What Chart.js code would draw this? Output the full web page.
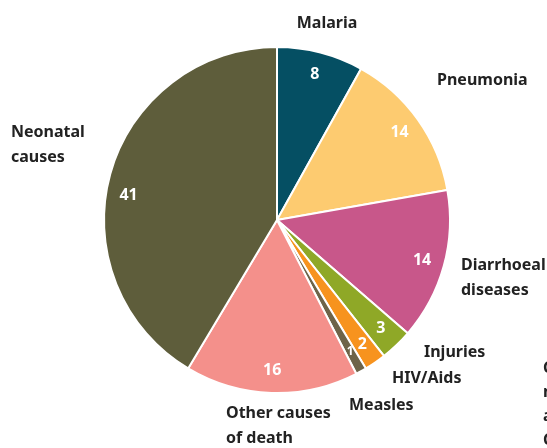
<!DOCTYPE html>
<html>
<head>
<meta charset="utf-8">
<script src="https://cdn.jsdelivr.net/npm/chart.js@4"></script>
<style>
  html, body { margin: 0; padding: 0; background: #fff; }
  #wrap { width: 547px; height: 448px; position: relative; }
</style>
</head>
<body>
<div id="wrap"><canvas id="pieChart" width="547" height="448"></canvas></div>
<script>
const categories = ['Malaria', 'Pneumonia', 'Diarrhoeal diseases', 'Injuries', 'HIV/Aids', 'Measles', 'Other causes of death', 'Neonatal causes'];
const values = [8, 14, 14, 3, 2, 1, 16, 41];
const colours = ['#054f63', '#fdcb70', '#c8578a', '#8fa827', '#f7931e', '#6e6449', '#f4908b', '#5e5d3b'];

// where along each slice's angle the number sits (0.5 = middle)
const valueAnglePos = [0.5, 0.5, 0.5, 0.5, 0.5, 0.5, 0.5, 0.46];

// outside label text lines and where they sit
const outerLabels = [
  { lines: ['Malaria'], x: 327, y: 23, align: 'center' },
  { lines: ['Pneumonia'], x: 437, y: 80, align: 'left' },
  { lines: ['Diarrhoeal', 'diseases'], x: 461, y: 265, align: 'left' },
  { lines: ['Injuries'], x: 424, y: 352, align: 'left' },
  { lines: ['HIV/Aids'], x: 392, y: 378, align: 'left' },
  { lines: ['Measles'], x: 349, y: 405, align: 'left' },
  { lines: ['Other causes', 'of death'], x: 226, y: 413, align: 'left' },
  { lines: ['Neonatal', 'causes'], x: 11, y: 132, align: 'left' }
];
const cutText = ['C', 'n', 'a', 'C'];

const FONT = '"Noto Sans", sans-serif';

const labelPlugin = {
  id: 'labels',
  afterDatasetsDraw(chart) {
    const ctx = chart.ctx;
    const meta = chart.getDatasetMeta(0);
    ctx.save();
    ctx.textBaseline = 'middle';
    ctx.fillStyle = '#fff';
    ctx.textAlign = 'center';
    meta.data.forEach((arc, i) => {
      const p = arc.getProps(['x', 'y', 'startAngle', 'endAngle', 'outerRadius'], true);
      const a = p.startAngle + (p.endAngle - p.startAngle) * valueAnglePos[i];
      const r = p.outerRadius * 0.87;
      ctx.font = (values[i] < 2 ? '700 12px ' : '700 16px ') + FONT;
      ctx.fillText(String(values[i]), p.x + Math.cos(a) * r, p.y + Math.sin(a) * r);
    });
    ctx.fillStyle = '#222';
    ctx.font = '700 16px ' + FONT;
    outerLabels.forEach(l => {
      ctx.textAlign = l.align;
      l.lines.forEach((t, j) => ctx.fillText(t, l.x, l.y + j * 25));
    });
    ctx.textAlign = 'left';
    cutText.forEach((t, j) => ctx.fillText(t, 543, 368 + j * 24));
    ctx.restore();
  }
};

new Chart(document.getElementById('pieChart'), {
  type: 'pie',
  data: {
    labels: categories,
    datasets: [{
      data: values,
      backgroundColor: colours,
      borderColor: '#fff',
      borderWidth: 2
    }]
  },
  options: {
    responsive: false,
    animation: false,
    layout: { padding: { left: 103, right: 96, top: 46, bottom: 54 } },
    plugins: {
      legend: { display: false },
      tooltip: { enabled: false }
    }
  },
  plugins: [labelPlugin]
});
</script>
</body>
</html>
